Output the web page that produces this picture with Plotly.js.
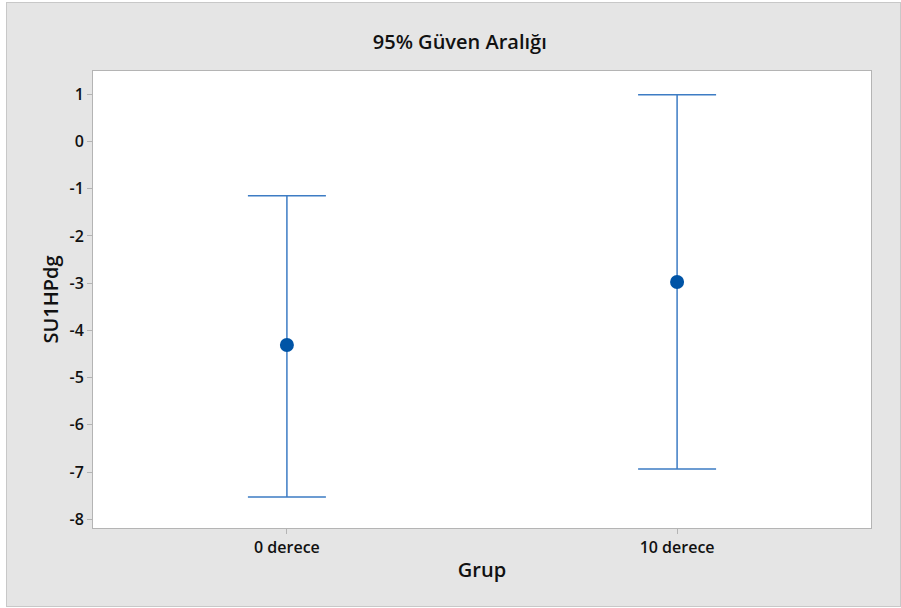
<!DOCTYPE html>
<html>
<head>
<meta charset="utf-8">
<script src="https://cdn.plot.ly/plotly-3.0.1.min.js"></script>
<style>
  html, body { margin: 0; padding: 0; background: #ffffff; width: 901px; height: 608px; overflow: hidden; }
  #frame { position: absolute; left: 6px; top: 2px; border: 1px solid #c8c8c8; width: 893px; height: 603px; }
  #chart { width: 893px; height: 603px; }
</style>
</head>
<body>
<div id="frame"><div id="chart"></div></div>
<script>
const groups = ["0 derece", "10 derece"];
const means = [-4.31, -2.975];
const upper = [-1.147, 0.99];
const lower = [-7.528, -6.935];
const yTickVals = [-8, -7, -6, -5, -4, -3, -2, -1, 0, 1];
const yTickText = ["-8", "-7", "-6", "-5", "-4", "-3", "-2", "-1", "0", "1"];

const font = "Open Sans, Noto Sans, sans-serif";

const trace = {
  type: "scatter",
  mode: "markers",
  x: groups,
  y: means,
  marker: { color: "#0054a6", size: 14 },
  error_y: {
    type: "data",
    symmetric: false,
    array: upper.map((u, i) => u - means[i]),
    arrayminus: lower.map((l, i) => means[i] - l),
    color: "#3d7cc4",
    thickness: 1.5,
    width: 39
  },
  hoverinfo: "x+y"
};

const layout = {
  width: 893,
  height: 603,
  margin: { l: 86, r: 29, t: 68, b: 78 },
  paper_bgcolor: "#e5e5e5",
  plot_bgcolor: "#ffffff",
  showlegend: false,
  font: { family: font, color: "#111111" },
  title: {
    text: "95% Güven Aralığı",
    font: { family: font, size: 20, weight: 600, color: "#111111" },
    x: 0.507, xref: "container", xanchor: "center",
    y: 0.935, yref: "container", yanchor: "middle"
  },
  xaxis: {
    type: "category",
    range: [-0.497, 1.497],
    showgrid: false,
    zeroline: false,
    showline: true,
    mirror: true,
    linecolor: "#b4b4b4",
    linewidth: 1,
    ticks: "outside",
    ticklen: 5,
    tickcolor: "#b4b4b4",
    tickfont: { family: font, size: 16, weight: 600, color: "#111111" },
    title: { text: "Grup", font: { family: font, size: 20, weight: 600, color: "#111111" }, standoff: 5 }
  },
  yaxis: {
    range: [-8.184, 1.493],
    tickvals: yTickVals,
    ticktext: yTickText,
    showgrid: false,
    zeroline: false,
    showline: true,
    mirror: true,
    linecolor: "#b4b4b4",
    linewidth: 1,
    ticks: "outside",
    ticklen: 5,
    tickcolor: "#b4b4b4",
    tickfont: { family: font, size: 16, weight: 600, color: "#111111" },
    title: { text: "SU1HPdg", font: { family: font, size: 20, weight: 600, color: "#111111" }, standoff: 5 }
  }
};

Plotly.newPlot("chart", [trace], layout, { displayModeBar: false, staticPlot: true });
</script>
</body>
</html>
